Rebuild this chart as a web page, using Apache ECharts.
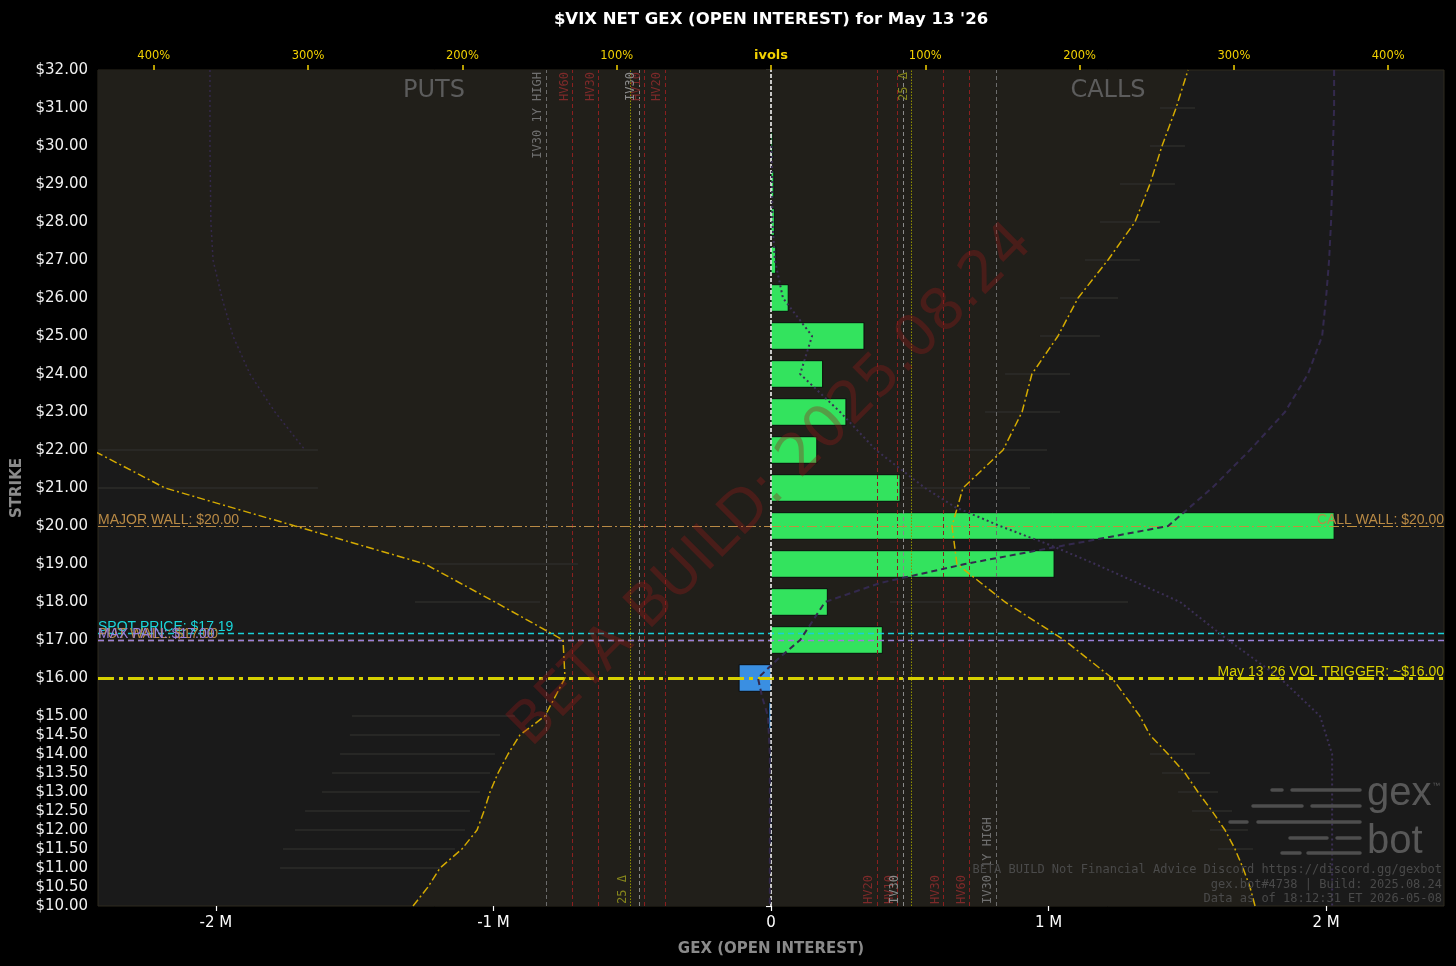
<!DOCTYPE html>
<html><head><meta charset="utf-8">
<script src="https://cdn.jsdelivr.net/npm/echarts@6/dist/echarts.min.js"></script>
<style>html,body{margin:0;padding:0;background:#000;}#c{width:1456px;height:966px;}</style>
</head><body><div id="c"></div>
<script>
// ---------- DATA ----------
const strikeLabels = [10,10.5,11,11.5,12,12.5,13,13.5,14,14.5,15,16,17,18,19,20,21,22,23,24,25,26,27,28,29,30,31,32];
const gexTicks = [-2e6,-1e6,0,1e6,2e6];
const ivTicks = [-4,-3,-2,-1,0,1,2,3,4];

const gexStrikes = [12,13,14,14.5,15,16,17,18,19,20,21,22,23,24,25,26,27,28,29,30];
const gexValues  = [-1000,-3000,-4000,-2000,-8000,-115000,401000,203000,1020000,2029000,465000,165000,270000,186000,335000,62000,17000,12000,10000,6000];

const putIvStrikes = [10,10.5,11,11.5,12,12.5,13,13.5,14,14.5,15,16,17,18,19,20,21,22];
const putIv = [2.32,2.223,2.145,2.003,1.905,1.86,1.821,1.769,1.704,1.627,1.465,1.335,1.348,1.789,2.242,3.085,3.927,4.40];
const callIvStrikes = [10,10.5,11,11.5,12,12.5,13,13.5,14,14.5,15,16,17,18,19,20,21,22,23,24,25,26,27,28,29,30,31,32];
const callIv = [3.137,3.104,3.059,3.007,2.942,2.858,2.767,2.683,2.573,2.456,2.39,2.21,1.90,1.517,1.205,1.173,1.244,1.504,1.627,1.691,1.86,1.99,2.184,2.359,2.456,2.534,2.625,2.703];

const putRangeStrikes = [22,21,19,18,15,14.5,14,13.5,13,12.5,12,11.5,11];
const putRangeLo = [2.936,2.936,1.251,1.497,1.659,1.756,1.789,1.821,1.886,1.951,1.983,2.048,2.145];
const putRangeHi = [4.5,4.5,2.21,2.307,2.716,2.729,2.793,2.845,2.91,3.02,3.085,3.163,3.182];
const callRangeStrikes = [31,30,29,28,27,26,25,24,23,22,21,19,18,14,13.5,13,12.5,12,11.5];
const callRangeLo = [2.521,2.456,2.262,2.132,2.035,1.873,1.743,1.517,1.387,1.095,0.771,0.771,0.771,2.456,2.534,2.638,2.728,2.845,2.897];
const callRangeHi = [2.748,2.683,2.618,2.521,2.391,2.249,2.132,1.938,1.873,1.789,1.679,1.808,2.314,2.748,2.845,2.897,2.988,3.091,3.124];

const dotStrikes = [30,29,28,27,26,25,24,23,22,21,20.5,20,19.5,19,18,17,16,15,14,13,12,11,10];
const dotValues  = [2000,4000,5000,14000,43000,148000,105000,249000,378000,555000,663000,825000,1005000,1168000,1474000,1647000,1834000,1978000,2022000,2022000,2022000,2022000,2022000];
const dashStrikes = [32,31,30,29,28,27,26,25,24,23,22,21,20,19,18.5,18,17,16.5,16,15.5,15,14,13,12,11,10];
const dashValues  = [2029000,2029000,2025000,2022000,2018000,2011000,2000000,1986000,1935000,1852000,1726000,1589000,1431000,699000,393000,195000,105000,25000,-47000,-32000,-11000,-4000,-4000,-4000,-4000,-4000];
const leftPurpleStrikes = [32,30,28,27,26,25,24,23,22];
const leftPurpleIv = [3.636,3.636,3.63,3.616,3.558,3.487,3.377,3.215,3.02];

const refNames = ['HV20','HV10','IV30','25 Δ','HV30','HV60','IV30 1Y HIGH'];
const refIv = [0.686,0.82,0.855,0.91,1.118,1.287,1.457];

const majorWall = 20, callWall = 20, spotPrice = 17.19, maxPain = 17, putWall = 17, volTrigger = 16;

// ---------- CHART ----------
const GEX_MAX = 2425000, IV_MAX = 4.3616, S_MIN = 10, S_MAX = 32;
const chart = echarts.init(document.getElementById('c'), null, {renderer:'canvas'});

function refStyle(n){
  if (n.startsWith('HV')) return {line:{color:'#8b1f1f', type:[4,3], width:1}, color:'#7e2a2a'};
  if (n === 'IV30') return {line:{color:'#8a8a8a', type:[4,3], width:1}, color:'#8c8c8c'};
  if (n === '25 Δ') return {line:{color:'#8f8f00', type:[1.5,1.5], width:1}, color:'#86861c'};
  return {line:{color:'#6c6c6c', type:[4,3], width:1}, color:'#707070'};
}
const refItems = [];
refNames.forEach((n,i)=>{
  const v = refIv[i], st = refStyle(n);
  const is25 = n === '25 Δ';
  const lab = (pos)=>({show:true, formatter:n, position:pos, color:st.color, fontFamily:'DejaVu Sans Mono', fontSize:12, distance:2});
  refItems.push([{coord:[-v,S_MIN], lineStyle:st.line, label:lab(is25?'insideStartTop':'insideEndTop')},{coord:[-v,S_MAX]}]);
  refItems.push([{coord:[v,S_MIN], lineStyle:st.line, label:lab(is25?'insideEndTop':'insideStartTop')},{coord:[v,S_MAX]}]);
});

const wallFont = {fontFamily:'Liberation Sans', fontSize:14, distance:[0,-1]};
const hLines = [
  [{coord:[-GEX_MAX,majorWall], lineStyle:{color:'#b98a45', type:[10,3,2,3], width:1.2},
    label:Object.assign({show:true, formatter:'MAJOR WALL: $20.00', position:'insideStartTop', color:'#b98a45'}, wallFont)},{coord:[0,majorWall]}],
  [{coord:[0,callWall], lineStyle:{color:'#c0903f', type:[10,3,2,3], width:1.2},
    label:Object.assign({show:true, formatter:'CALL WALL: $20.00', position:'insideEndTop', color:'#b98a45'}, wallFont)},{coord:[GEX_MAX,callWall]}],
  [{coord:[-GEX_MAX,spotPrice], lineStyle:{color:'#19d0d6', type:[6,4], width:1.3},
    label:Object.assign({show:true, formatter:'SPOT PRICE: $17.19', position:'insideStartTop', color:'#19d6da'}, wallFont)},{coord:[GEX_MAX,spotPrice]}],
  [{coord:[-GEX_MAX,putWall], lineStyle:{color:'#b98a45', type:[6,4], width:1.3},
    label:Object.assign({show:true, formatter:'PUT WALL: $17.00', position:'insideStartTop', color:'#b98a45'}, wallFont)},{coord:[0,putWall]}],
  [{coord:[-GEX_MAX,maxPain], lineStyle:{color:'#9a7fd8', type:[6,4], width:1.3},
    label:Object.assign({show:true, formatter:'MAX PAIN: $17.00', position:'insideStartTop', color:'#9a7fd8'}, wallFont)},{coord:[GEX_MAX,maxPain]}],
  [{coord:[-GEX_MAX,volTrigger], lineStyle:{color:'#d6d000', type:[16,5,4,5], width:3},
    label:Object.assign({show:true, formatter:"May 13 '26 VOL TRIGGER: ~$16.00", position:'insideEndTop', color:'#d8d000'}, wallFont)},{coord:[GEX_MAX,volTrigger]}],
  [{coord:[0,S_MIN], lineStyle:{color:'#ffffff', type:[4,2], width:1.5}, label:{show:false}},{coord:[0,S_MAX]}]
];

const logoDashes = [
  [790,1272,1282],[790,1292,1360],
  [806,1253,1302],[806,1312,1360],
  [822,1230,1247],[822,1258,1360],
  [838,1290,1327],[838,1337,1360],
  [853,1282,1300],[853,1308,1360]
];

const option = {
  backgroundColor:'#000',
  animation:false,
  textStyle:{fontFamily:'DejaVu Sans'},
  grid:{left:98, right:12, top:70, bottom:60, show:true, backgroundColor:'#1a1a1a', borderColor:'#2e2a1f', borderWidth:1},
  xAxis:[
    {type:'value', position:'bottom', min:-GEX_MAX, max:GEX_MAX,
     name:'GEX (OPEN INTEREST)', nameLocation:'middle', nameGap:36,
     nameTextStyle:{color:'#8a8a8a', fontWeight:'bold', fontSize:15},
     axisLine:{show:false}, splitLine:{show:false},
     axisTick:{show:true, length:5, customValues:gexTicks, lineStyle:{color:'#fff', width:1.2}},
     axisLabel:{customValues:gexTicks, color:'#fff', fontSize:15, margin:10,
       formatter:v=> v===0 ? '0' : (v/1e6)+' M'}},
    {type:'value', position:'top', min:-IV_MAX, max:IV_MAX,
     axisLine:{show:false}, splitLine:{show:false},
     axisTick:{show:true, length:5, customValues:ivTicks, lineStyle:{color:'#f2d100', width:1.5}},
     axisLabel:{customValues:ivTicks, color:'#f2d100', fontSize:11.5, margin:8,
       formatter:v=> v===0 ? '{b|ivols}' : Math.abs(Math.round(v*100))+'%',
       rich:{b:{color:'#f2d100', fontWeight:'bold', fontSize:13}}}}
  ],
  yAxis:{type:'value', min:S_MIN, max:S_MAX,
    name:'STRIKE', nameLocation:'middle', nameGap:70,
    nameTextStyle:{color:'#8a8a8a', fontWeight:'bold', fontSize:15},
    axisLine:{show:false}, splitLine:{show:false},
    axisTick:{show:true, length:5, customValues:strikeLabels, lineStyle:{color:'#fff', width:1.2}},
    axisLabel:{customValues:strikeLabels, color:'#f0f0f0', fontSize:15, margin:10, padding:[4,0,0,0],
      formatter:v=> '$'+v.toFixed(2)}},
  series:[
    { // inner fill between the put and call IV curves
      type:'custom', xAxisIndex:1, z:1, clip:true, silent:true,
      data:[[0,S_MIN]],
      renderItem:(params, api)=>{
        const pts = [];
        putIvStrikes.forEach((s,i)=>pts.push(api.coord([-putIv[i], s])));
        pts.push(api.coord([-20, putIvStrikes[putIvStrikes.length-1]]));
        pts.push(api.coord([-20, S_MAX]));
        for (let i=callIvStrikes.length-1;i>=0;i--) pts.push(api.coord([callIv[i], callIvStrikes[i]]));
        return {type:'polygon', shape:{points:pts}, style:{fill:'#211f1a'}};
      }
    },
    { // IV ranges (faint)
      type:'custom', xAxisIndex:1, z:2, clip:true, silent:true,
      encode:{x:[0,1], y:2},
      data: putRangeStrikes.map((s,i)=>[-putRangeHi[i], -putRangeLo[i], s])
            .concat(callRangeStrikes.map((s,i)=>[callRangeLo[i], callRangeHi[i], s])),
      renderItem:(params, api)=>{
        const a = api.coord([api.value(0), api.value(2)]);
        const b = api.coord([api.value(1), api.value(2)]);
        return {type:'line', shape:{x1:a[0], y1:a[1], x2:b[0], y2:b[1]}, style:{stroke:'#2c2c2a', lineWidth:1.5}};
      }
    },
    { // GEX bars
      type:'custom', xAxisIndex:0, z:3, clip:true, silent:true,
      encode:{x:0, y:1},
      data: gexStrikes.map((s,i)=>[gexValues[i], s]),
      renderItem:(params, api)=>{
        const v = api.value(0), s = api.value(1);
        const p0 = api.coord([0, s+0.35]);
        const p1 = api.coord([v, s-0.35]);
        const x = Math.min(p0[0], p1[0]);
        const w = Math.max(Math.abs(p1[0]-p0[0]), 1);
        return {type:'rect', shape:{x:x, y:p0[1], width:w, height:p1[1]-p0[1]},
          style:{fill: v>=0 ? '#33e35e' : '#3a8fe2', stroke:'#0c0c0c', lineWidth:1}};
      }
    },
    { // left purple faint curve
      type:'line', xAxisIndex:1, z:4, silent:true, symbol:'none',
      data: leftPurpleStrikes.map((s,i)=>[-leftPurpleIv[i], s]),
      lineStyle:{color:'#34284c', width:1.5, type:[2,3]}
    },
    { // put IV curve + vertical reference lines
      type:'line', xAxisIndex:1, z:5, silent:true, symbol:'none',
      data: putIvStrikes.map((s,i)=>[-putIv[i], s]),
      lineStyle:{color:'#d4aa00', width:1.5, type:[8,3,2,3]},
      markLine:{silent:true, symbol:['none','none'], animation:false, data:refItems}
    },
    { // call IV curve
      type:'line', xAxisIndex:1, z:5, silent:true, symbol:'none',
      data: callIvStrikes.map((s,i)=>[callIv[i], s]),
      lineStyle:{color:'#d4aa00', width:1.5, type:[8,3,2,3]}
    },
    { // dotted overlay
      type:'line', xAxisIndex:0, z:6, silent:true, symbol:'none',
      data: dotStrikes.map((s,i)=>[dotValues[i], s]),
      lineStyle:{color:'#3b2f55', width:2, type:[2,3]}
    },
    { // dashed overlay
      type:'line', xAxisIndex:0, z:6, silent:true, symbol:'none',
      data: dashStrikes.map((s,i)=>[dashValues[i], s]),
      lineStyle:{color:'#33294d', width:2, type:[6,4]}
    },
    { // horizontal level lines
      type:'line', xAxisIndex:0, z:7, silent:true, symbol:'none',
      data:[],
      markLine:{silent:true, symbol:['none','none'], animation:false, data:hLines}
    }
  ],
  graphic:[
    {type:'text', x:771, y:20, z:10, style:{text:"$VIX NET GEX (OPEN INTEREST) for May 13 '26", fill:'#fff', font:'bold 16.5px "DejaVu Sans"', align:'center', verticalAlign:'middle'}},
    {type:'text', x:434, y:91, z:10, style:{text:'PUTS', fill:'#5c5c5c', font:'24px "DejaVu Sans"', align:'center', verticalAlign:'middle'}},
    {type:'text', x:1108, y:91, z:10, style:{text:'CALLS', fill:'#5c5c5c', font:'24px "DejaVu Sans"', align:'center', verticalAlign:'middle'}},
    {type:'text', x:772, y:486, rotation:Math.PI/4, z:20, silent:true, style:{text:'BETA BUILD: 2025.08.24', fill:'rgba(150,25,25,0.35)', font:'58px "DejaVu Sans"', align:'center', verticalAlign:'middle'}},
    {type:'text', x:1442, y:870, z:10, style:{text:'BETA BUILD Not Financial Advice Discord https://discord.gg/gexbot', fill:'#4a4a4a', font:'12px "DejaVu Sans Mono"', align:'right', verticalAlign:'middle'}},
    {type:'text', x:1442, y:885, z:10, style:{text:'gex.bot#4738 | Build: 2025.08.24', fill:'#4a4a4a', font:'12px "DejaVu Sans Mono"', align:'right', verticalAlign:'middle'}},
    {type:'text', x:1442, y:899, z:10, style:{text:'Data as of 18:12:31 ET 2026-05-08', fill:'#4a4a4a', font:'12px "DejaVu Sans Mono"', align:'right', verticalAlign:'middle'}},
    {type:'text', x:1367, y:774, z:10, style:{text:'gex', fill:'#585858', font:'40px "Liberation Sans"', align:'left', verticalAlign:'top'}},
    {type:'text', x:1367, y:822, z:10, style:{text:'bot', fill:'#585858', font:'40px "Liberation Sans"', align:'left', verticalAlign:'top'}},
    {type:'text', x:1432, y:786, z:10, style:{text:'™', fill:'#585858', font:'8px "Liberation Sans"', align:'left', verticalAlign:'middle'}}
  ].concat(logoDashes.map(d=>({type:'line', z:10, shape:{x1:d[1], y1:d[0], x2:d[2], y2:d[0]}, style:{stroke:'#4e4e4e', lineWidth:3.5, lineCap:'round'}})))
};
chart.setOption(option);
</script>
</body></html>
